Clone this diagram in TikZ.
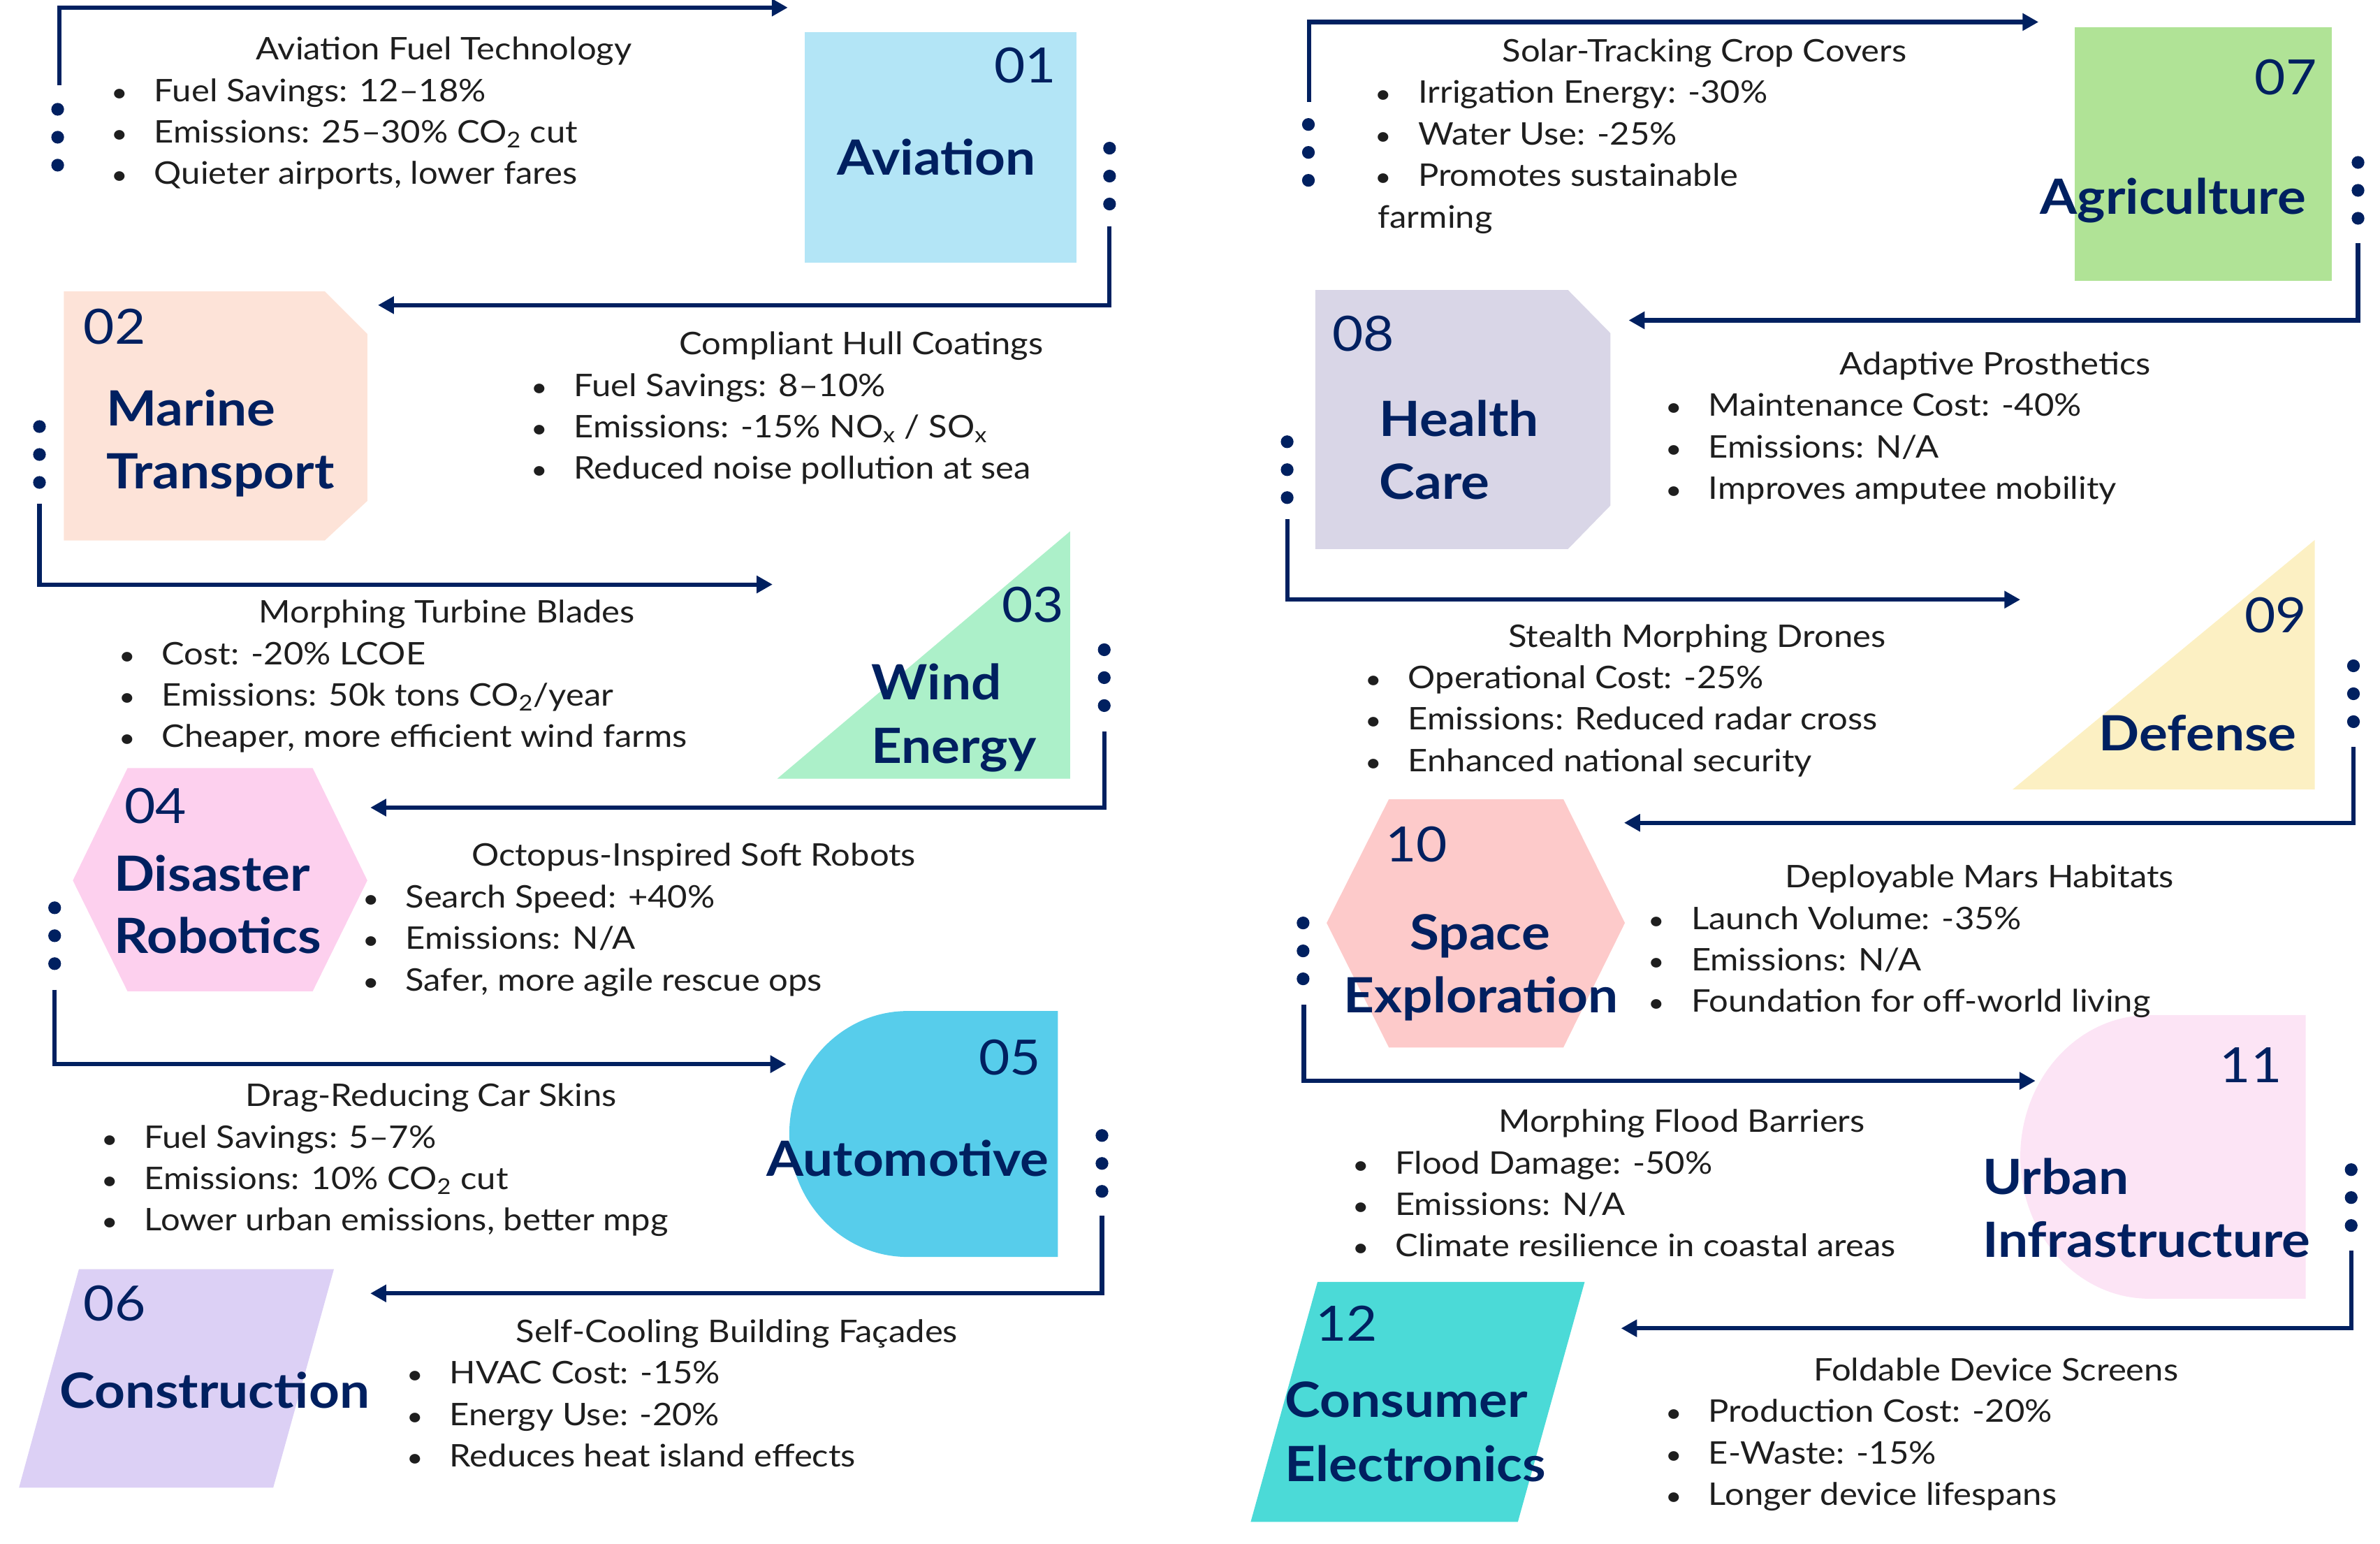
\documentclass[tikz,border=0pt]{standalone}
\usepackage{fontspec}
\setmainfont{Lato}[FakeStretch=1.1]
\usetikzlibrary{arrows.meta}
\definecolor{navy}{HTML}{002060}
\definecolor{bodytxt}{HTML}{1E1E1E}
\definecolor{cA}{HTML}{B3E5F6}
\definecolor{cB}{HTML}{FDE3D8}
\definecolor{cC}{HTML}{ACF0C9}
\definecolor{cD}{HTML}{FDD0EE}
\definecolor{cE}{HTML}{57CDEB}
\definecolor{cF}{HTML}{DCD0F5}
\definecolor{cG}{HTML}{B0E396}
\definecolor{cH}{HTML}{D9D6E7}
\definecolor{cI}{HTML}{FCF0C3}
\definecolor{cJ}{HTML}{FDCACA}
\definecolor{cK}{HTML}{FCE4F5}
\definecolor{cL}{HTML}{4BDAD7}
\tikzset{
  conn/.style={draw=navy, line width=2.8pt, -{Triangle[length=10.5pt,width=11pt]}},
  btitle/.style={anchor=base, inner sep=0pt, font=\fontsize{20.5}{24}\selectfont, text=bodytxt},
  btext/.style={anchor=base west, inner sep=0pt, font=\fontsize{20.5}{24}\selectfont, text=bodytxt},
  bul/.style={anchor=base, inner sep=0pt, font=\fontsize{17}{22}\selectfont, text=bodytxt},
  num/.style={inner sep=0pt, font=\fontsize{32}{36}\selectfont, text=navy},
  ttl/.style={inner sep=0pt, font=\bfseries\fontsize{32}{36}\selectfont, text=navy},
}
\newcommand{\infoblock}[8]{%
  \node[btitle] (#1t) at (#2,#3) {#5};
  \node[bul] (#1b1) at (#4,#3+27.4) {•};
  \node[btext] (#1l1) at (#4+22.5,#3+27.4) {#6};
  \node[bul] (#1b2) at (#4,#3+54.7) {•};
  \node[btext] (#1l2) at (#4+22.5,#3+54.7) {#7};
  \node[bul] (#1b3) at (#4,#3+82) {•};
  \node[btext] (#1l3) at (#4+22.5,#3+82) {#8};
}
\newcommand{\dotcol}[2]{%
  \foreach \k in {0,1,2} {\fill[navy] (#1,#2+18.4*\k) circle (4.2);}
}
\begin{document}
\begin{tikzpicture}[x=1pt,y=-1pt]
\path[use as bounding box] (0,0) rectangle (1568,1016.7);

% ---------- shapes ----------
\fill[cA] (530,21) rectangle (709,173);
\fill[cB] (42,192) -- (214,192) -- (242,220) -- (242,330) -- (214,356) -- (42,356) -- cycle;
\fill[cC] (512,513) -- (705,513) -- (705,350) -- cycle;
\fill[cD] (84,506) -- (206,506) -- (242,580) -- (206,653) -- (84,653) -- (48,580) -- cycle;
\fill[cE] (697,666) -- (598,666) arc[start angle=270, end angle=90, x radius=78, y radius=81] -- (697,828) -- cycle;
\fill[cF] (52,836) -- (220,836) -- (180,980) -- (12.5,980) -- cycle;
\fill[cG] (1367,18) rectangle (1536,185);
\fill[cH] (866.5,191) -- (1033,191) -- (1061,219.5) -- (1061,333) -- (1033,361.7) -- (866.5,361.7) -- cycle;
\fill[cI] (1326,520) -- (1525,520) -- (1525,355.7) -- cycle;
\fill[cJ] (915,526.5) -- (1030,526.5) -- (1070.5,608) -- (1030,690) -- (915,690) -- (874,608) -- cycle;
\fill[cK] (1519,668.7) -- (1416,668.7) arc[start angle=270, end angle=90, x radius=85, y radius=93.4] -- (1519,855.5) -- cycle;
\fill[cL] (868,844.5) -- (1044,844.5) -- (1000,1002.5) -- (824,1002.5) -- cycle;

% ---------- box numbers and titles ----------
\node[num, anchor=base east] (n01) at (696,54.5) {01};
\node[ttl, anchor=base] (t01) at (617,115.5) {Aviation};
\node[num, anchor=base west] (n02) at (55,226.6) {02};
\node[ttl, anchor=base west] (t02a) at (70,280.6) {Marine};
\node[ttl, anchor=base west] (t02b) at (70,321.7) {Transport};
\node[num, anchor=base east] (n03) at (701,409.7) {03};
\node[ttl, anchor=base west] (t03a) at (574,460.7) {Wind};
\node[ttl, anchor=base west] (t03b) at (574,502.6) {Energy};
\node[num, anchor=base west] (n04) at (82,542.4) {04};
\node[ttl, anchor=base west] (t04a) at (75,587) {Disaster};
\node[ttl, anchor=base west] (t04b) at (75,628) {Robotics};
\node[num, anchor=base east] (n05) at (686,707.9) {05};
\node[ttl, anchor=base] (t05) at (598,774.7) {Automotive};
\node[num, anchor=base west] (n06) at (55,870) {06};
\node[ttl, anchor=base west] (t06) at (39,927.8) {Construction};
\node[num, anchor=base east] (n07) at (1526.6,62.3) {07};
\node[ttl, anchor=base] (t07) at (1431.6,141) {Agriculture};
\node[num, anchor=base west] (n08) at (877.5,231.3) {08};
\node[ttl, anchor=base west] (t08a) at (908.6,287.6) {Health};
\node[ttl, anchor=base west] (t08b) at (908.6,328.7) {Care};
\node[num, anchor=base east] (n09) at (1520,416.8) {09};
\node[ttl, anchor=base] (t09) at (1448,494.3) {Defense};
\node[num, anchor=base west] (n10) at (912.7,567.8) {10};
\node[ttl, anchor=base] (t10a) at (975,625.8) {Space};
\node[ttl, anchor=base] (t10b) at (975.8,667) {Exploration};
\node[num, anchor=base east] (n11) at (1503.5,713) {11};
\node[ttl, anchor=base west] (t11a) at (1306,786.6) {Urban};
\node[ttl, anchor=base west] (t11b) at (1306,828) {Infrastructure};
\node[num, anchor=base west] (n12) at (866.6,883.4) {12};
\node[ttl, anchor=base west] (t12a) at (846.5,933.4) {Consumer};
\node[ttl, anchor=base west] (t12b) at (846.5,975.7) {Electronics};

% ---------- text blocks ----------
\infoblock{i1}{292.5}{39.4}{79}{Aviation Fuel Technology}{Fuel Savings: 12–18\%}{Emissions: 25–30\% CO\textsubscript{2} cut}{Quieter airports, lower fares}
\infoblock{i2}{567.5}{233.6}{355.4}{Compliant Hull Coatings}{Fuel Savings: 8–10\%}{Emissions: -15\% NO\textsubscript{x} / SO\textsubscript{x}}{Reduced noise pollution at sea}
\infoblock{i3}{294.5}{410.4}{83.9}{Morphing Turbine Blades}{Cost: -20\% LCOE}{Emissions: 50k tons CO\textsubscript{2}/year}{Cheaper, more efficient wind farms}
\infoblock{i4}{457}{570.6}{244.5}{Octopus-Inspired Soft Robots}{Search Speed: +40\%}{Emissions: N/A}{Safer, more agile rescue ops}
\infoblock{i5}{284}{728.8}{72.4}{Drag-Reducing Car Skins}{Fuel Savings: 5–7\%}{Emissions: 10\% CO\textsubscript{2} cut}{Lower urban emissions, better mpg}
\infoblock{i6}{485.5}{884.2}{273.5}{Self-Cooling Building Façades}{HVAC Cost: -15\%}{Energy Use: -20\%}{Reduces heat island effects}
\infoblock{i7}{1123}{40.6}{911.6}{Solar-Tracking Crop Covers}{Irrigation Energy: -30\%}{Water Use: -25\%}{Promotes sustainable}
\node[btext] (i7l4) at (907.6,150.3) {farming};
\infoblock{i8}{1314.6}{246.8}{1103}{Adaptive Prosthetics}{Maintenance Cost: -40\%}{Emissions: N/A}{Improves amputee mobility}
\infoblock{i9}{1118}{426.2}{905}{Stealth Morphing Drones}{Operational Cost: -25\%}{Emissions: Reduced radar cross}{Enhanced national security}
\infoblock{i10}{1304}{584.8}{1091.5}{Deployable Mars Habitats}{Launch Volume: -35\%}{Emissions: N/A}{Foundation for off-world living}
\infoblock{i11}{1108}{745.8}{896.5}{Morphing Flood Barriers}{Flood Damage: -50\%}{Emissions: N/A}{Climate resilience in coastal areas}
\infoblock{i12}{1315}{909.5}{1103}{Foldable Device Screens}{Production Cost: -20\%}{E-Waste: -15\%}{Longer device lifespans}

% ---------- dots ----------
\dotcol{38}{72}
\dotcol{731}{97.6}
\dotcol{26}{281}
\dotcol{727.5}{428}
\dotcol{36}{598}
\dotcol{726}{748}
\dotcol{862}{82}
\dotcol{1553.5}{107}
\dotcol{848}{291}
\dotcol{1550.5}{438.6}
\dotcol{858.5}{608}
\dotcol{1549}{770.5}

% ---------- connectors ----------
\coordinate (s1) at (39,56);      \coordinate (e1) at (519,5);
\coordinate (s2) at (731,149);    \coordinate (e2) at (249,201);
\coordinate (s3) at (26,332);     \coordinate (e3) at (509,385);
\coordinate (s4) at (727.5,482);  \coordinate (e4) at (244,532);
\coordinate (s5) at (36,652);     \coordinate (e5) at (518,701);
\coordinate (s6) at (726,801);    \coordinate (e6) at (244,852);
\coordinate (s7) at (862.5,67);   \coordinate (e7) at (1343,14.5);
\coordinate (s8) at (1553.5,160); \coordinate (e8) at (1073,211);
\coordinate (s9) at (848,342);    \coordinate (e9) at (1331,395);
\coordinate (s10) at (1550.5,492);\coordinate (e10) at (1070,542);
\coordinate (s11) at (859,662);   \coordinate (e11) at (1341,712);
\coordinate (s12) at (1549,824);  \coordinate (e12) at (1068,875);
\foreach \i in {1,...,12} {\draw[conn] (s\i) |- (e\i);}
\end{tikzpicture}
\end{document}
